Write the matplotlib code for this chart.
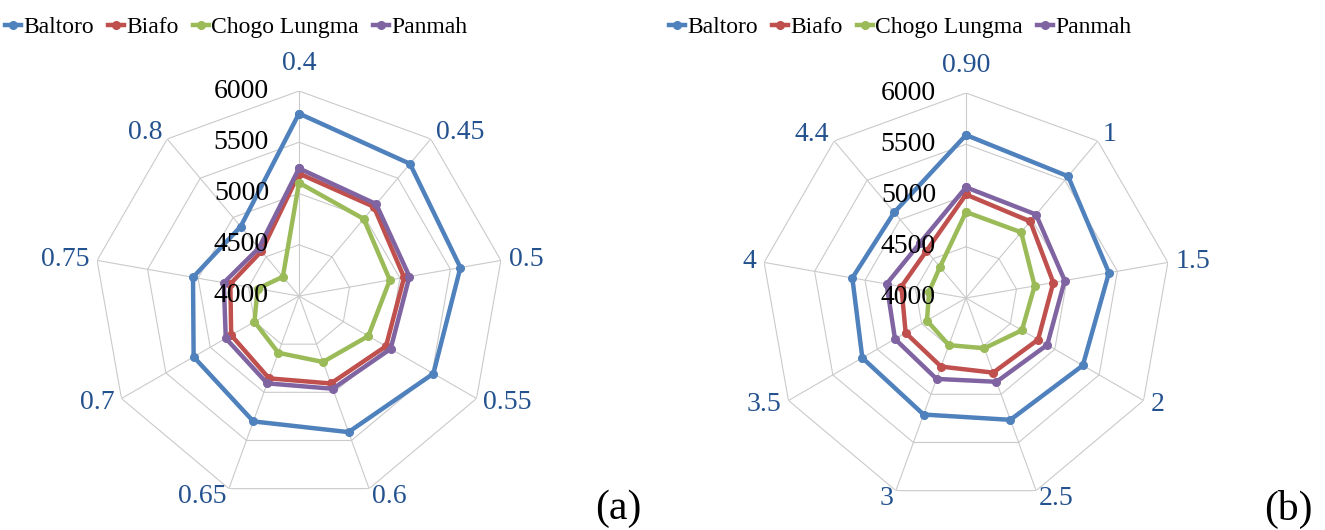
import numpy as np
import matplotlib
matplotlib.use("Agg")
import matplotlib.pyplot as plt
from matplotlib.transforms import offset_copy

plt.rcParams['font.family'] = ['Liberation Serif', 'DejaVu Serif']

series_names = ["Baltoro", "Biafo", "Chogo Lungma", "Panmah"]
series_colors = ["#4F81BD", "#C0504D", "#9BBB59", "#8064A2"]

cats_a = ["0.4", "0.45", "0.5", "0.55", "0.6", "0.65", "0.7", "0.75", "0.8"]
baltoro_a = [5780, 5684, 5599, 5514, 5413, 5302, 5187, 5050, 4885]
biafo_a = [5195, 5136, 5041, 4980, 4908, 4855, 4764, 4680, 4570]
chogo_a = [5105, 4982, 4900, 4781, 4685, 4590, 4502, 4410, 4245]
panmah_a = [5245, 5171, 5094, 5032, 4963, 4907, 4825, 4745, 4610]

cats_b = ["0.90", "1", "1.5", "2", "2.5", "3", "3.5", "4", "4.4"]
baltoro_b = [5590, 5550, 5416, 5316, 5265, 5210, 5168, 5126, 5090]
biafo_b = [5010, 4975, 4865, 4812, 4775, 4712, 4680, 4640, 4600]
chogo_b = [4839, 4837, 4680, 4630, 4522, 4489, 4440, 4365, 4395]
panmah_b = [5080, 5063, 4978, 4915, 4870, 4840, 4800, 4787, 4700]

rings = [4500, 5000, 5500, 6000]
tick_vals = [4000, 4500, 5000, 5500, 6000]
rmin, rmax = 4000, 6000

fig = plt.figure(figsize=(13.25, 5.30), dpi=100)


def radar(rect, cats, data, legend_x, tag, tag_x):
    ax = fig.add_axes(rect, projection="polar")
    ax.set_theta_offset(np.pi / 2)
    ax.set_theta_direction(-1)
    ax.set_ylim(rmin, rmax)
    ax.grid(False)
    ax.spines["polar"].set_visible(False)
    ax.set_xticks([])
    ax.set_yticks([])

    n = len(cats)
    theta = np.arange(n) * 2 * np.pi / n
    closed = np.append(theta, theta[0])

    for r in rings:
        ax.plot(closed, [r] * (n + 1), color="#CACACA", lw=0.8, zorder=1)
    for t in theta:
        ax.plot([t, t], [rmin, rmax], color="#CACACA", lw=0.8, zorder=1)

    for name, col, vals in zip(series_names, series_colors, data):
        v = np.append(vals, vals[0])
        ax.plot(closed, v, color=col, lw=3.2, marker="o", markersize=5.5,
                label=name, zorder=3)

    tr = offset_copy(ax.transData, fig=fig, x=-30, y=0, units="dots")
    for v in tick_vals:
        ax.text(0, v, str(v), transform=tr, ha="right", va="center",
                fontsize=20, color="black", zorder=5)

    # category labels sit just outside each vertex, aligned by side
    for t, c in zip(theta, cats):
        s, co = np.sin(t), np.cos(t)
        if abs(s) < 0.1:
            ha, dist = "center", 28
        else:
            ha, dist = ("left" if s > 0 else "right"), 8
        ltr = offset_copy(ax.transData, fig=fig, x=dist * s, y=dist * co,
                          units="dots")
        ax.text(t, rmax, c, transform=ltr, ha=ha, va="center", fontsize=20,
                color="#24528F")

    ax.legend(loc="center", bbox_to_anchor=(legend_x, 0.949),
              bbox_transform=fig.transFigure, ncol=4, frameon=False,
              fontsize=17, handlelength=0.7, handletextpad=0.08,
              columnspacing=0.6, borderaxespad=0)
    fig.text(tag_x, 1 - 509 / 530, tag, fontsize=30, ha="center", va="center")
    return ax


W, H = 1325, 530
R = 205
radar([(299 - R) / W, (530 - 296 - R) / H, 2 * R / W, 2 * R / H],
      cats_a, [baltoro_a, biafo_a, chogo_a, panmah_a], 236 / W, "(a)", 618 / W)
radar([(966 - R) / W, (530 - 298 - R) / H, 2 * R / W, 2 * R / H],
      cats_b, [baltoro_b, biafo_b, chogo_b, panmah_b], 900 / W, "(b)", 1288 / W)

fig.savefig("out.png", dpi=100)
